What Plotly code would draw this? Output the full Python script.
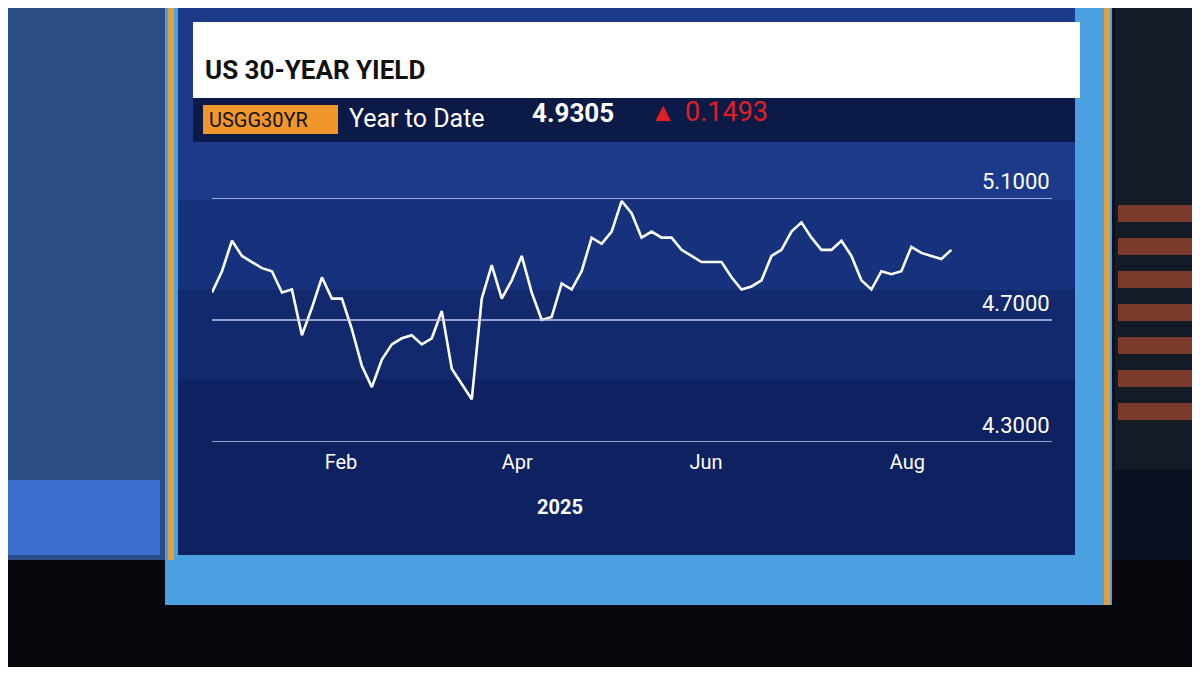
import plotly.graph_objects as go
import pandas as pd

yields = [4.79,4.86,4.96,4.91,4.89,4.87,4.86,4.79,4.80,4.65,4.74,4.84,4.77,4.77,4.67,4.55,4.48,4.57,
          4.62,4.64,4.65,4.62,4.64,4.73,4.54,4.49,4.44,4.77,4.88,4.77,4.83,4.91,4.79,4.70,4.71,4.82,
          4.80,4.86,4.97,4.95,4.99,5.09,5.05,4.97,4.99,4.97,4.97,4.93,4.91,4.89,4.89,4.89,4.84,4.80,
          4.81,4.83,4.91,4.93,4.99,5.02,4.97,4.93,4.93,4.96,4.91,4.83,4.80,4.86,4.85,4.86,4.94,4.92,
          4.91,4.90,4.93]
dates = pd.date_range("2025-01-02", "2025-08-25", periods=len(yields))
grid_vals = [4.3, 4.7, 5.1]
tick_dates = ["2025-02-12", "2025-04-09", "2025-06-08", "2025-08-11"]
tick_text = ["Feb", "Apr", "Jun", "Aug"]

W, H, OFF = 1184, 659, 8
def fx(x): return (x - OFF) / W
def fy(y): return 1 - (y - OFF) / H

fig = go.Figure()
fig.add_trace(go.Scatter(x=dates, y=yields, mode="lines",
                         line=dict(color="white", width=2.6), hoverinfo="skip"))

def px(x0, y0, x1, y1, color):
    return dict(type="rect", xref="paper", yref="paper", x0=fx(x0), x1=fx(x1),
                y0=fy(y1), y1=fy(y0), fillcolor=color, line=dict(width=0), layer="below")

shapes = [
    px(0, 0, 165, 560, "#2c4e86"),
    px(0, 480, 160, 555, "#3a6fd0"),
    px(0, 560, 1200, 675, "#05070d"),
    px(1115, 0, 1200, 470, "#141a26"),
]
for i in range(7):
    shapes.append(px(1118, 205 + i*33, 1200, 222 + i*33, "#7a3b2c"))
shapes += [
    px(165, 0, 1112, 605, "#4aa0e0"),
    px(168, 0, 174, 560, "#e0a040"),
    px(1104, 0, 1110, 605, "#e0a040"),
    px(178, 0, 1075, 555, "#0e2160"),
    px(178, 0, 1075, 380, "#12296e"),
    px(178, 0, 1075, 290, "#17327d"),
    px(178, 0, 1075, 200, "#1b3a8a"),
    px(193, 22, 1080, 98, "#ffffff"),
    px(193, 98, 1075, 142, "#0b1a46"),
    px(203, 105, 338, 134, "#f0962a"),
]
for v in grid_vals:
    shapes.append(dict(type="line", xref="paper", yref="y", x0=fx(212), x1=fx(1052),
                       y0=v, y1=v, line=dict(color="#c8c8f0", width=1.5)))

F = "Roboto"
ann = [
    dict(x=fx(203), y=fy(70), text="<b>US 30-YEAR YIELD</b>", font=dict(size=26, color="#111", family=F)),
    dict(x=fx(207), y=fy(120), text="USGG30YR", font=dict(size=20, color="#111", family=F)),
    dict(x=fx(347), y=fy(118), text="Year to Date", font=dict(size=25, color="white", family=F)),
    dict(x=fx(530), y=fy(113), text="<b>4.9305</b>", font=dict(size=26, color="white", family=F)),
    dict(x=fx(648), y=fy(112), text="▲", font=dict(size=26, color="#e02020", family=F)),
    dict(x=fx(683), y=fy(112), text="0.1493", font=dict(size=27, color="#e02020", family=F)),
    dict(x=fx(560), y=fy(507), text="<b>2025</b>", font=dict(size=20, color="white", family=F),
         xanchor="center"),
]
for a in ann:
    a.setdefault("xanchor", "left")
    a.update(xref="paper", yref="paper", yanchor="middle", showarrow=False)
for v in grid_vals:
    ann.append(dict(xref="paper", yref="y", x=fx(1052), y=v, text=f"{v:.4f}", showarrow=False,
                    xanchor="right", yanchor="bottom", yshift=2,
                    font=dict(size=22, color="white", family=F)))

fig.update_layout(
    width=W, height=H, margin=dict(l=0, r=0, t=0, b=0),
    paper_bgcolor="#0a1020", plot_bgcolor="rgba(0,0,0,0)", showlegend=False,
    shapes=shapes, annotations=ann,
    xaxis=dict(domain=[fx(212), fx(1052)], range=["2025-01-02", "2025-09-26"],
               tickvals=tick_dates, ticktext=tick_text, showgrid=False, zeroline=False,
               tickfont=dict(size=20, color="white", family=F), ticks="", ticklabelstandoff=6),
    yaxis=dict(domain=[fy(442), fy(198)], range=[4.3, 5.1], showgrid=False,
               showticklabels=False, zeroline=False),
)
fig.write_html("out.html")
